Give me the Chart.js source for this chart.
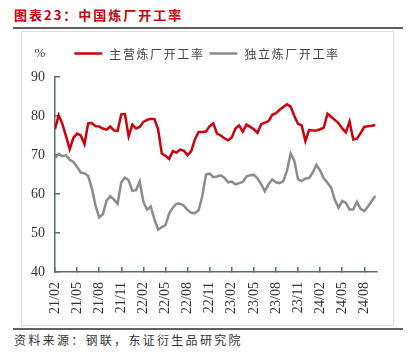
<!DOCTYPE html>
<html lang="zh-CN">
<head>
<meta charset="UTF-8" />
<title>中国炼厂开工率</title>
<script src="https://cdn.jsdelivr.net/npm/chart.js"></script>
<style>
  html, body { margin: 0; padding: 0; background: #fff; }
  body { width: 410px; height: 364px; position: relative; overflow: hidden; font-family: "Noto Sans CJK SC", sans-serif; }
  #title { position: absolute; left: 14px; top: 6px; line-height: 18px; font-size: 13px; font-weight: bold; color: #c8000a; letter-spacing: 2px; }
  .rule { position: absolute; left: 13px; width: 390px; height: 2px; background: #606060; }
  #box { position: absolute; left: 21px; top: 31px; width: 371px; height: 293px; border: 1px solid #dedede; }
  #source { position: absolute; left: 14px; top: 332px; line-height: 16px; font-size: 12px; color: #333; letter-spacing: 2.3px; }
  #chart { position: absolute; left: 0; top: 0; }
</style>
</head>
<body>
<div id="title">图表23：中国炼厂开工率</div>
<div class="rule" style="top:27px"></div>
<div id="box"></div>
<div class="rule" style="top:328px"></div>
<div id="source">资料来源：钢联，东证衍生品研究院</div>
<canvas id="chart" width="410" height="364"></canvas>

<script>
  // 半月一个点，从 21/02 开始
  const mainName = "主营炼厂开工率";
  const indepName = "独立炼厂开工率";

  const mainRate = [
    76.6, 80.2, 78.0, 74.8, 71.5, 74.4, 75.5, 75.0, 72.8, 78.1,
    78.2, 77.4, 77.3, 76.8, 76.5, 77.3, 76.3, 76.2, 80.4, 80.5,
    74.8, 77.8, 76.8, 77.2, 78.5, 79.0, 79.3, 79.2, 76.6, 70.4,
    69.8, 69.0, 71.0, 70.6, 71.4, 71.1, 69.9, 71.0, 74.0, 75.9,
    75.9, 76.0, 77.4, 78.1, 75.5, 75.0, 74.3, 73.8, 74.5, 76.8,
    77.6, 76.0, 77.8, 77.2, 76.6, 75.7, 77.9, 78.3, 78.7, 80.3,
    80.7, 81.6, 82.3, 83.0, 82.4, 80.0, 78.0, 77.6, 73.6, 76.4,
    76.3, 76.3, 76.6, 77.0, 80.6, 79.8, 79.0, 78.2, 76.8, 75.8,
    78.6, 74.0, 74.2, 75.6, 77.2, 77.4, 77.5, 77.7
  ];

  const indepRate = [
    69.2, 70.3, 69.7, 69.9, 68.8, 68.2, 66.9, 65.5, 65.3, 64.6,
    61.5, 57.0, 54.0, 54.8, 58.3, 59.4, 58.6, 57.5, 63.0, 64.2,
    63.5, 60.8, 61.0, 63.2, 58.0, 56.0, 56.8, 53.5, 50.9, 51.5,
    52.0, 55.0, 56.5, 57.5, 57.5, 57.0, 55.9, 55.2, 55.1, 55.8,
    59.5, 65.0, 65.2, 64.3, 64.5, 64.8, 64.2, 63.0, 63.2, 62.5,
    62.8, 63.1, 64.5, 64.8, 64.9, 64.0, 62.5, 60.7, 62.5, 63.7,
    63.0, 62.8, 63.3, 66.0, 70.4, 68.5, 63.8, 63.3, 64.0, 64.1,
    65.5, 67.5, 66.0, 64.0, 62.9, 61.6, 58.5, 56.5, 58.2, 57.7,
    56.0, 56.0, 58.0, 56.2, 55.6, 56.8, 58.2, 59.5
  ];

  // 每季度一个刻度（6 个半月）
  const xTickLabels = ["21/02", "21/05", "21/08", "21/11", "22/02", "22/05", "22/08", "22/11",
                       "23/02", "23/05", "23/08", "23/11", "24/02", "24/05", "24/08"];
  const yMin = 40, yMax = 90, yStep = 10;

  const axisColor = "#557070";
  const serif = "Liberation Serif";

  // 图例：短线 + 文字，居中放在图上方
  const lineLegend = {
    id: "lineLegend",
    afterDraw(chart) {
      const ctx = chart.ctx;
      const sets = chart.data.datasets;
      ctx.save();
      ctx.font = '12px "Noto Sans CJK SC"';
      ctx.letterSpacing = "1.6px";
      const seg = 28, gap = 7, between = 5;
      const widths = sets.map(d => ctx.measureText(d.label).width);
      let total = between * (sets.length - 1);
      widths.forEach(w => total += seg + gap + w);
      let x = 207 - total / 2;
      const y = 53.5;
      sets.forEach((d, k) => {
        ctx.strokeStyle = d.borderColor;
        ctx.lineWidth = 2.5;
        ctx.beginPath();
        ctx.moveTo(x, y);
        ctx.lineTo(x + seg, y);
        ctx.stroke();
        ctx.fillStyle = "#444";
        ctx.textBaseline = "middle";
        ctx.fillText(d.label, x + seg + gap, y + 0.5);
        x += seg + gap + widths[k] + between;
      });
      ctx.letterSpacing = "0px";
      ctx.font = "13px " + serif;
      ctx.fillStyle = "#333";
      ctx.textAlign = "center";
      ctx.fillText("%", 40, 54);
      ctx.restore();
    }
  };

  new Chart(document.getElementById("chart"), {
    type: "line",
    data: {
      datasets: [
        {
          label: mainName,
          data: mainRate.map((v, i) => ({ x: i, y: v })),
          borderColor: "#d0000b",
          backgroundColor: "#d0000b",
          borderWidth: 2.5,
          pointRadius: 0,
          tension: 0
        },
        {
          label: indepName,
          data: indepRate.map((v, i) => ({ x: i, y: v })),
          borderColor: "#8c8c8c",
          backgroundColor: "#8c8c8c",
          borderWidth: 2.5,
          pointRadius: 0,
          tension: 0
        }
      ]
    },
    options: {
      responsive: false,
      animation: false,
      layout: { padding: { top: 77, right: 33, bottom: 47, left: 0 } },
      plugins: { legend: { display: false }, tooltip: { enabled: false } },
      scales: {
        x: {
          type: "linear",
          min: 0,
          max: 87.45,
          afterBuildTicks: s => { s.ticks = xTickLabels.map((_, k) => ({ value: k * 6 })); },
          afterFit: s => { s.height = 45; },
          grid: { drawOnChartArea: false, tickLength: -5, color: axisColor, lineWidth: 1.5 },
          border: { color: axisColor, width: 1.5 },
          ticks: {
            autoSkip: false,
            minRotation: 90,
            maxRotation: 90,
            padding: 15,
            color: "#333",
            font: { family: serif, size: 14 },
            callback: (v, i) => xTickLabels[i]
          }
        },
        y: {
          min: yMin,
          max: yMax,
          afterFit: s => { s.width = 55; },
          grid: { drawOnChartArea: false, tickLength: -5, color: axisColor, lineWidth: 1.5 },
          border: { color: axisColor, width: 1.5 },
          ticks: {
            stepSize: yStep,
            padding: 15,
            color: "#333",
            font: { family: serif, size: 14 }
          }
        }
      }
    },
    plugins: [lineLegend]
  });
</script>
</body>
</html>
